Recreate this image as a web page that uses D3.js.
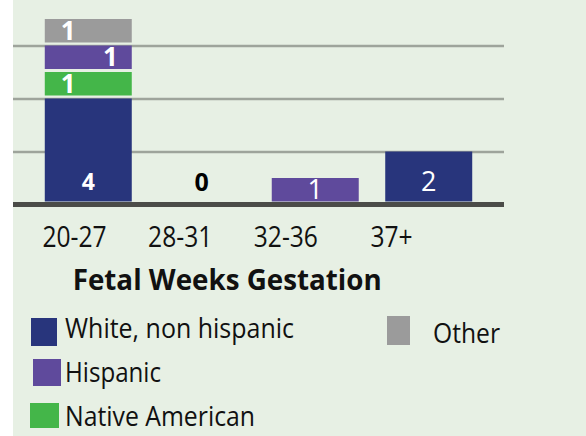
<!DOCTYPE html>
<html>
<head>
<meta charset="utf-8">
<script src="https://cdn.jsdelivr.net/npm/d3@7"></script>
<style>
body { margin: 0; background: #fff; }
svg { display: block; font-family: "Open Sans", sans-serif; }
</style>
</head>
<body>
<svg id="chart" width="586" height="436"></svg>
<script>
// Data
const categories = ['20-27', '28-31', '32-36', '37+'];
const whiteNonHispanic = [4, 0, 0, 2];
const nativeAmerican = [1, 0, 0, 0];
const hispanic = [1, 0, 1, 0];
const other = [1, 0, 0, 0];
const gridTicks = [2, 4, 6];

const seriesKeys = ['white', 'native', 'hispanic', 'other'];
const seriesNames = {
    white: 'White, non hispanic',
    hispanic: 'Hispanic',
    native: 'Native American',
    other: 'Other'
};
const colors = {
    white: '#28357c',
    hispanic: '#5f4a9c',
    native: '#44b649',
    other: '#9b9b9b'
};

const rows = categories.map((c, i) => ({
    cat: c,
    white: whiteNonHispanic[i],
    native: nativeAmerican[i],
    hispanic: hispanic[i],
    other: other[i]
}));

// Layout
const svg = d3.select('#chart');
const plotLeft = 13, plotRight = 504;
const gap = 3;

svg.append('rect').attr('x', 13).attr('y', 0)
    .attr('width', 586 - 13).attr('height', 436)
    .style('fill', '#e7f0e4');

const xScale = d3.scaleBand().domain(categories)
    .range([plotLeft, plotRight]).paddingInner(0.2335).paddingOuter(0.28);
const xLabel = d3.scalePoint().domain(categories).range([74, 391]);
const yScale = d3.scaleLinear().domain([0, 8]).range([204.5, -7.5]);

// gridlines
const grid = svg.append('g').attr('class', 'grid')
    .attr('transform', `translate(${plotLeft},0)`)
    .call(d3.axisLeft(yScale).tickValues(gridTicks)
        .tickSize(-(plotRight - plotLeft)).tickFormat(''));
grid.select('.domain').remove();
grid.selectAll('line').style('stroke', '#9ea49b').style('stroke-width', 2.5);

// bars
const stacked = d3.stack().keys(seriesKeys)(rows);
const bars = svg.append('g').attr('class', 'bars');
bars.selectAll('g').data(stacked).join('g')
    .style('fill', d => colors[d.key])
    .selectAll('rect')
    .data(d => d.filter(s => s[1] - s[0] > 0))
    .join('rect')
    .attr('x', d => xScale(d.data.cat))
    .attr('width', xScale.bandwidth())
    .attr('y', d => yScale(d[1]))
    .attr('height', d => yScale(d[0]) - gap - yScale(d[1]));

// baseline
svg.append('line')
    .attr('x1', plotLeft).attr('x2', plotRight)
    .attr('y1', yScale(0)).attr('y2', yScale(0))
    .style('stroke', '#4b4c48').style('stroke-width', 5);

// bar labels
const labelAlign = { white: 'middle', native: 'start', hispanic: 'end', other: 'start' };
const labelSize = [23, 25, 27, 27];
const labelWeight = [700, 700, 400, 400];
const labels = [];
stacked.forEach(layer => layer.forEach((s, i) => {
    if (s[1] - s[0] > 0) labels.push({ key: layer.key, i: i, y0: s[0], y1: s[1], v: s[1] - s[0] });
}));
rows.forEach((r, i) => {
    const total = d3.sum(seriesKeys, k => r[k]);
    if (total === 0) labels.push({ key: null, i: i, y0: 0, y1: 0, v: 0 });
});

function labelY(d) {
    if (d.y0 > 0) return (yScale(d.y0) + yScale(d.y1)) / 2 - 2;
    if (d.v === 0) return yScale(0) - 23;
    return Math.max(yScale(0) - 23, (yScale(d.y1) + yScale(0) - gap) / 2);
}

svg.append('g').attr('class', 'bar-labels')
    .selectAll('text').data(labels).join('text')
    .attr('x', d => {
        const x0 = xScale(categories[d.i]);
        const align = d.y0 > 0 ? labelAlign[d.key] : 'middle';
        if (align === 'start') return x0 + 16;
        if (align === 'end') return x0 + xScale.bandwidth() - 14;
        return x0 + xScale.bandwidth() / 2;
    })
    .attr('y', labelY)
    .attr('dy', '0.36em')
    .attr('text-anchor', d => d.y0 > 0 ? labelAlign[d.key] : 'middle')
    .style('font-size', d => (d.y0 > 0 ? 26 : labelSize[d.i]) + 'px')
    .style('font-weight', d => labelWeight[d.i])
    .style('fill', d => d.key ? '#fff' : '#000')
    .text(d => d.v);

// category axis
const xAxisDraw = svg.append('g').attr('class', 'x axis')
    .attr('transform', 'translate(0,247)')
    .call(d3.axisBottom(xLabel).tickSize(0));
xAxisDraw.select('.domain').remove();
xAxisDraw.selectAll('text')
    .attr('y', 0).attr('dy', 0)
    .attr('transform', 'scale(0.82,1)')
    .style('font-size', '30px')
    .style('font-family', '"Open Sans", sans-serif')
    .style('fill', '#111');

// axis title
svg.append('text')
    .attr('x', 72.7).attr('y', 290)
    .attr('textLength', 309).attr('lengthAdjust', 'spacingAndGlyphs')
    .style('font-size', '29px').style('font-weight', 700).style('fill', '#111')
    .text('Fetal Weeks Gestation');

// legend
const legendItems = [
    { key: 'white', sx: 31, sy: 318, sw: 26, sh: 28, tx: 65, ty: 338, tw: 229 },
    { key: 'hispanic', sx: 33, sy: 359, sw: 28, sh: 27, tx: 65, ty: 382, tw: 96 },
    { key: 'native', sx: 30, sy: 403, sw: 29, sh: 25, tx: 65, ty: 426, tw: 190 },
    { key: 'other', sx: 387, sy: 316, sw: 23, sh: 29, tx: 433, ty: 343, tw: 67 }
];
const legend = svg.append('g').attr('class', 'legend')
    .selectAll('g').data(legendItems).join('g');
legend.append('rect')
    .attr('x', d => d.sx).attr('y', d => d.sy)
    .attr('width', d => d.sw).attr('height', d => d.sh)
    .style('fill', d => colors[d.key]);
legend.append('text')
    .attr('x', d => d.tx).attr('y', d => d.ty)
    .attr('textLength', d => d.tw).attr('lengthAdjust', 'spacingAndGlyphs')
    .style('font-size', '27px').style('fill', '#111')
    .text(d => seriesNames[d.key]);
</script>
</body>
</html>
